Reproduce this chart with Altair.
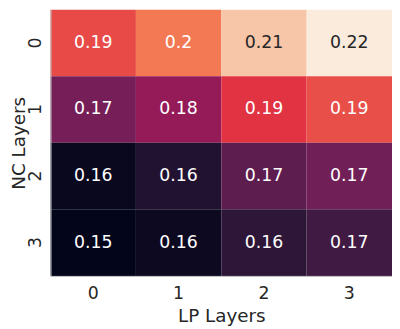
import altair as alt
import pandas as pd

lp_layers = ["0", "1", "2", "3"]
nc_layers = ["0", "1", "2", "3"]
values = [
    [0.1928, 0.1989, 0.2099, 0.2160],
    [0.1732, 0.1774, 0.1897, 0.1934],
    [0.1560, 0.1603, 0.1695, 0.1725],
    [0.1548, 0.1566, 0.1621, 0.1652],
]
rocket_stops = ["#03051a", "#35193e", "#701f57", "#ad1759",
                "#e13342", "#f37651", "#f6b48f", "#faebdd"]

rows = []
for i, nc in enumerate(nc_layers):
    for j, lp in enumerate(lp_layers):
        rows.append({"nc": nc, "lp": lp, "v": values[i][j]})
df = pd.DataFrame(rows)
vmin = min(min(r) for r in values)
vmax = max(max(r) for r in values)

FONT = "DejaVu Sans"

base = alt.Chart(df).encode(
    x=alt.X("lp:N", sort=lp_layers, title="LP Layers",
            axis=alt.Axis(labelAngle=0, labelFontSize=17.5, titleFontSize=18.5,
                          labelFont=FONT, titleFont=FONT, labelColor="#262626",
                          titleColor="#262626", titleFontWeight="normal",
                          ticks=False, labelPadding=9, titlePadding=5,
                          domainColor="#b8b8b8", domainWidth=1)),
    y=alt.Y("nc:N", sort=nc_layers, title="NC Layers",
            axis=alt.Axis(labelAngle=270, labelFontSize=17.5, titleFontSize=18.5,
                          labelFont=FONT, titleFont=FONT, labelColor="#262626",
                          titleColor="#262626", titleFontWeight="normal",
                          ticks=False, labelPadding=6,
                          titleAngle=270, titleX=-32, titleBaseline="middle",
                          domainColor="#b8b8b8", domainWidth=1)),
)

rect = base.mark_rect().encode(
    color=alt.Color("v:Q", legend=None,
                    scale=alt.Scale(domain=[vmin, vmax], range=rocket_stops,
                                    interpolate="rgb")),
)

text = base.mark_text(font=FONT, fontSize=17.5).encode(
    text=alt.Text("v:Q", format=".2~g"),
    color=alt.condition(alt.datum.v > 0.204, alt.value("#262626"), alt.value("white")),
)

chart = (rect + text).properties(
    width=345, height=269,
    autosize=alt.AutoSizeParams(type="none"),
    padding={"left": 43, "top": 0, "right": 0, "bottom": 52},
).configure_view(stroke=None).configure_axis(grid=False)

chart.save("out.html", embed_options={"renderer": "svg", "actions": False})
